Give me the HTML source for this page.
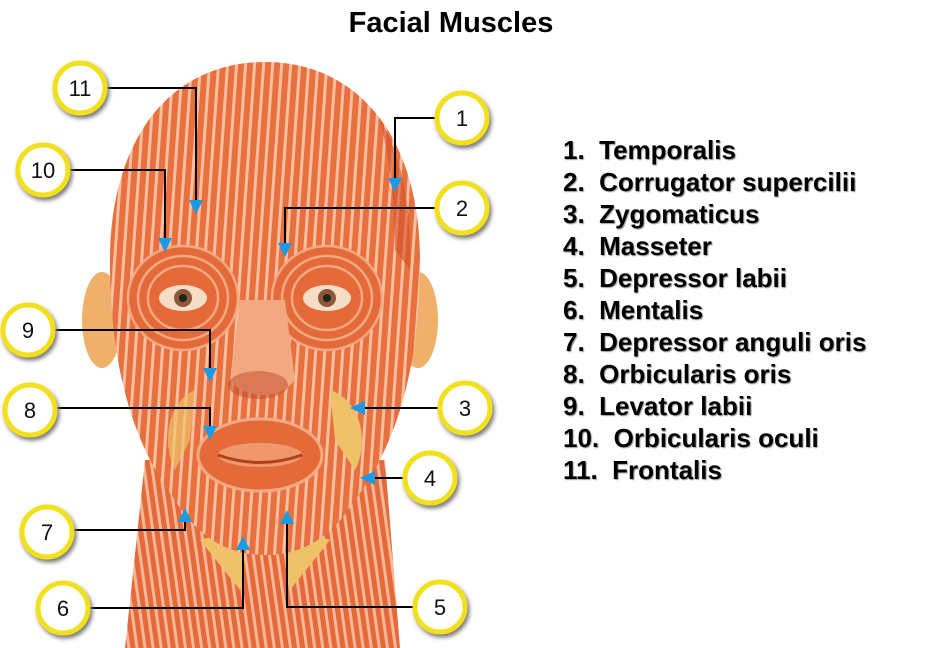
<!DOCTYPE html>
<html><head><meta charset="utf-8"><style>
body{margin:0;background:#fff;width:928px;height:648px;overflow:hidden;position:relative;font-family:"Liberation Sans",Arial,sans-serif}
.t{position:absolute;left:0;top:7px;width:902px;text-align:center;font-size:29px;font-weight:bold;color:#000}
.l{position:absolute;left:563px;top:134px;font-weight:bold;font-size:26px;line-height:32px;color:#000;text-shadow:1px 1px 1px #999;white-space:pre}
</style></head><body>
<svg width="928" height="648" style="position:absolute;left:0;top:0">
<defs>
<pattern id="st" width="9" height="40" patternUnits="userSpaceOnUse" patternTransform="rotate(4)">
<rect width="9" height="40" fill="#e8703e"/><rect x="5" width="3" height="40" fill="#f8c0a0"/>
</pattern>
<pattern id="st2" width="8" height="40" patternUnits="userSpaceOnUse" patternTransform="rotate(-8)">
<rect width="8" height="40" fill="#e46a3a"/><rect x="4" width="3" height="40" fill="#f6b896"/>
</pattern>
<filter id="sh"><feDropShadow dx="2" dy="3" stdDeviation="2" flood-color="#777"/></filter>
</defs>
<path d="M145,460 L385,460 L400,648 L125,648 Z" fill="url(#st2)"/>
<path d="M200,540 L250,525 L240,590 Z M330,540 L280,525 L290,590 Z" fill="#efc26a"/>
<ellipse cx="102" cy="320" rx="20" ry="48" fill="#eeb06a"/>
<ellipse cx="418" cy="320" rx="20" ry="48" fill="#eeb06a"/>
<path d="M265,62 C170,62 110,140 110,260 C110,360 130,440 175,500 C200,540 230,555 265,555 C300,555 330,540 355,500 C400,440 420,360 420,260 C420,140 360,62 265,62 Z" fill="url(#st)"/>
<path d="M380,120 C405,160 412,220 410,270 L395,250 C395,200 390,160 380,120Z" fill="#d2502a" opacity=".6"/>
<g fill="none" stroke="#f3a982" stroke-width="2.5">
<ellipse cx="183" cy="298" rx="55" ry="52" fill="#e46a3a"/>
<ellipse cx="183" cy="298" rx="45" ry="42"/><ellipse cx="183" cy="298" rx="35" ry="32"/>
<ellipse cx="327" cy="298" rx="55" ry="52" fill="#e46a3a"/>
<ellipse cx="327" cy="298" rx="45" ry="42"/><ellipse cx="327" cy="298" rx="35" ry="32"/>
</g>
<ellipse cx="183" cy="298" rx="24" ry="13" fill="#f6ddc8"/><circle cx="183" cy="298" r="9" fill="#8a5a3a"/><circle cx="183" cy="298" r="4" fill="#222"/>
<ellipse cx="327" cy="298" rx="24" ry="13" fill="#f6ddc8"/><circle cx="327" cy="298" r="9" fill="#8a5a3a"/><circle cx="327" cy="298" r="4" fill="#222"/>
<path d="M240,300 L285,300 L295,380 C280,400 245,400 230,380 Z" fill="#f2a880"/>
<ellipse cx="258" cy="385" rx="30" ry="14" fill="#c04a2a" opacity=".5"/>
<path d="M330,390 C360,400 370,440 355,470 L335,440 Z" fill="#efc26a"/>
<path d="M195,390 C170,400 160,440 175,470 L190,440 Z" fill="#efc26a" opacity=".7"/>
<ellipse cx="260" cy="455" rx="62" ry="36" fill="#e46a3a" stroke="#f3a982" stroke-width="3"/>
<ellipse cx="260" cy="455" rx="42" ry="12" fill="#f0986c"/>
<path d="M218,455 Q260,470 302,455" stroke="#b0401f" stroke-width="3" fill="none"/>
<g stroke="#000" stroke-width="2" fill="none">
<polyline points="102,88 196,88 196,200"/>
<polyline points="440,118 395,118 395,180"/>
<polyline points="65,170 165,170 165,240"/>
<polyline points="440,208 285,208 285,245"/>
<polyline points="50,330 210,330 210,370"/>
<polyline points="52,408 210,408 210,428"/>
<polyline points="443,408 365,408"/>
<polyline points="408,478 375,478"/>
<polyline points="69,530 185,530 185,520"/>
<polyline points="85,608 243,608 243,548"/>
<polyline points="418,607 287,607 287,522"/>
</g>
<g fill="#1a9be6">
<path d="M189,200 L203,200 L196,214Z"/><path d="M388,178 L402,178 L395,192Z"/>
<path d="M158,238 L172,238 L165,252Z"/><path d="M278,243 L292,243 L285,257Z"/>
<path d="M203,368 L217,368 L210,382Z"/><path d="M203,426 L217,426 L210,440Z"/>
<path d="M365,401 L365,415 L350,408Z"/><path d="M375,471 L375,485 L360,478Z"/>
<path d="M178,522 L192,522 L185,508Z"/><path d="M236,550 L250,550 L243,536Z"/>
<path d="M280,524 L294,524 L287,510Z"/>
</g>
<g filter="url(#sh)" fill="#fff" stroke="#f2e01a" stroke-width="5">
<circle cx="80" cy="88" r="25"/><circle cx="462" cy="118" r="25"/>
<circle cx="43" cy="170" r="25"/><circle cx="462" cy="208" r="25"/>
<circle cx="28" cy="330" r="25"/><circle cx="30" cy="410" r="25"/>
<circle cx="465" cy="408" r="25"/><circle cx="430" cy="478" r="25"/>
<circle cx="47" cy="532" r="25"/><circle cx="63" cy="608" r="25"/>
<circle cx="440" cy="607" r="25"/>
</g>
<g font-family="Liberation Sans,Arial,sans-serif" font-size="22" text-anchor="middle" fill="#111">
<text x="80" y="96">11</text><text x="462" y="126">1</text>
<text x="43" y="178">10</text><text x="462" y="216">2</text>
<text x="28" y="338">9</text><text x="30" y="418">8</text>
<text x="465" y="416">3</text><text x="430" y="486">4</text>
<text x="47" y="540">7</text><text x="63" y="616">6</text>
<text x="440" y="615">5</text>
</g>
</svg>
<div class="t">Facial Muscles</div>
<div class="l">1.  Temporalis
2.  Corrugator supercilii
3.  Zygomaticus
4.  Masseter
5.  Depressor labii
6.  Mentalis
7.  Depressor anguli oris
8.  Orbicularis oris
9.  Levator labii
10.  Orbicularis oculi
11.  Frontalis</div>
</body></html>
